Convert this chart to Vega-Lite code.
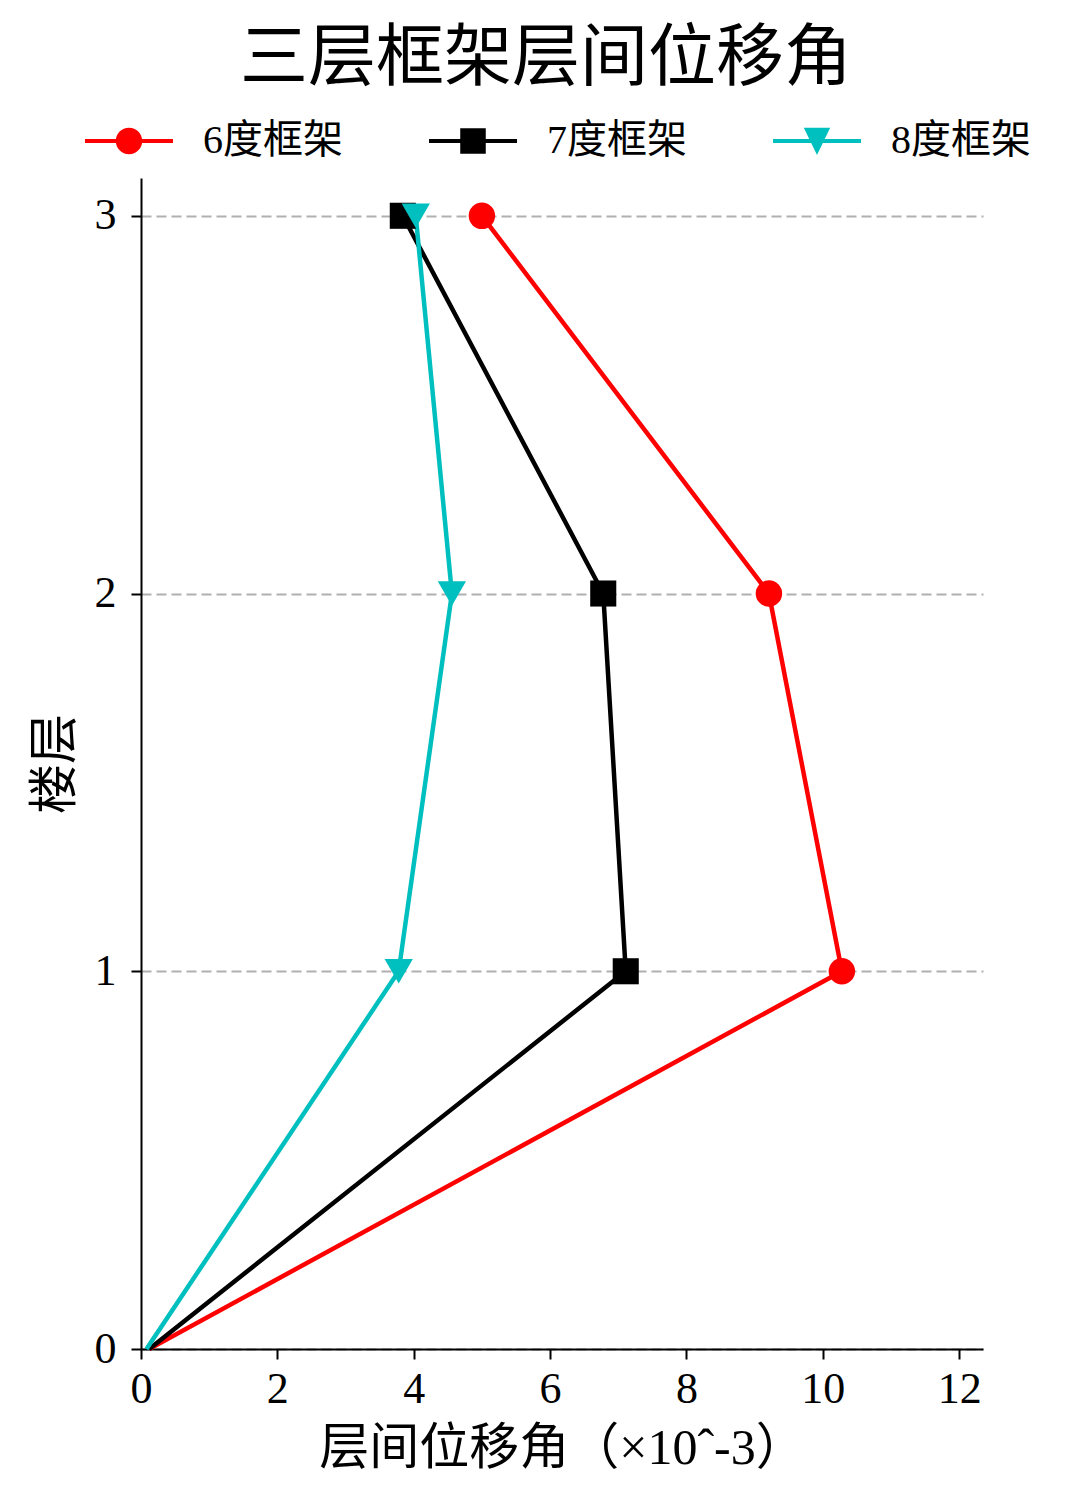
{
  "$schema": "https://vega.github.io/schema/vega-lite/v6.json",
  "width": 842,
  "height": 1171,
  "autosize": {"type": "none"},
  "padding": {"left": 141, "top": 178, "right": 97, "bottom": 159},
  "background": "white",
  "title": {
    "text": "三层框架层间位移角",
    "fontSize": 68,
    "fontWeight": "normal",
    "font": "Liberation Serif, Noto Sans CJK SC",
    "anchor": "middle",
    "frame": "group",
    "dx": -16,
    "offset": 3
  },
  "data": {
    "values": [
      {"series": "6度框架", "drift": 0.12, "floor": 0},
      {"series": "6度框架", "drift": 10.28, "floor": 1},
      {"series": "6度框架", "drift": 9.21, "floor": 2},
      {"series": "6度框架", "drift": 5.0, "floor": 3},
      {"series": "7度框架", "drift": 0.12, "floor": 0},
      {"series": "7度框架", "drift": 7.11, "floor": 1},
      {"series": "7度框架", "drift": 6.78, "floor": 2},
      {"series": "7度框架", "drift": 3.84, "floor": 3},
      {"series": "8度框架", "drift": 0.08, "floor": 0},
      {"series": "8度框架", "drift": 3.78, "floor": 1},
      {"series": "8度框架", "drift": 4.56, "floor": 2},
      {"series": "8度框架", "drift": 4.03, "floor": 3}
    ]
  },
  "encoding": {
    "x": {
      "field": "drift",
      "type": "quantitative",
      "scale": {"domain": [0, 12.35], "nice": false, "zero": false},
      "axis": {
        "values": [0, 2, 4, 6, 8, 10, 12],
        "title": "层间位移角（×10ˆ-3）",
        "grid": false,
        "titlePadding": 12
      }
    },
    "y": {
      "field": "floor",
      "type": "quantitative",
      "scale": {"domain": [0, 3.1], "nice": false},
      "axis": {
        "values": [0, 1, 2, 3],
        "title": "楼层",
        "grid": true,
        "gridDash": [10, 5],
        "gridColor": "#b0b0b0",
        "gridWidth": 2,
        "labelPadding": 15,
        "titlePadding": 14
      }
    }
  },
  "layer": [
    {
      "mark": {"type": "line", "strokeWidth": 4.5},
      "encoding": {
        "order": {"field": "floor"},
        "color": {
          "field": "series",
          "type": "nominal",
          "scale": {
            "domain": ["6度框架", "7度框架", "8度框架"],
            "range": ["#ff0000", "#000000", "#00bfbf"]
          },
          "legend": {
            "title": null,
            "orient": "none",
            "direction": "horizontal",
            "legendX": -56,
            "legendY": -81,
            "symbolSize": 7744,
            "labelFontSize": 40,
            "labelOffset": 30,
            "columnPadding": 86,
            "padding": 0,
            "encode": {
              "symbols": {
                "update": {
                  "shape": {
                    "signal": "datum.value === '6度框架' ? 'M-1,-0.045H1V0.045H-1ZM0.3,0A0.3,0.3,0,1,1,-0.3,0A0.3,0.3,0,1,1,0.3,0Z' : datum.value === '7度框架' ? 'M-1,-0.045H1V0.045H-1ZM-0.29,-0.29H0.29V0.29H-0.29Z' : 'M-1,-0.045H1V0.045H-1ZM-0.3,-0.3H0.3L0,0.32Z'"
                  },
                  "fill": {
                    "signal": "datum.value === '6度框架' ? '#ff0000' : datum.value === '7度框架' ? '#000000' : '#00bfbf'"
                  },
                  "fillOpacity": {"value": 1},
                  "strokeWidth": {"value": 0},
                  "opacity": {"value": 1}
                }
              }
            }
          }
        }
      }
    },
    {
      "transform": [{"filter": "datum.floor > 0 && datum.series === '6度框架'"}],
      "mark": {"type": "point", "shape": "circle", "filled": true, "opacity": 1, "size": 700, "color": "#ff0000"}
    },
    {
      "transform": [{"filter": "datum.floor > 0 && datum.series === '7度框架'"}],
      "mark": {"type": "point", "shape": "square", "filled": true, "opacity": 1, "size": 680, "color": "#000000"}
    },
    {
      "transform": [{"filter": "datum.floor > 0 && datum.series === '8度框架'"}],
      "mark": {"type": "point", "shape": "triangle-down", "filled": true, "opacity": 1, "size": 800, "color": "#00bfbf"}
    }
  ],
  "config": {
    "font": "Liberation Serif, Noto Sans CJK SC",
    "view": {"stroke": null},
    "axis": {
      "labelFont": "Liberation Serif, Noto Sans CJK SC",
      "titleFont": "Liberation Serif, Noto Sans CJK SC",
      "labelFontSize": 44,
      "titleFontSize": 50,
      "titleFontWeight": "normal",
      "labelColor": "black",
      "titleColor": "black",
      "domainColor": "black",
      "domainWidth": 2,
      "tickColor": "black",
      "tickWidth": 2,
      "tickSize": 10,
      "labelPadding": 8,
      "labelFlush": false,
      "labelOverlap": false
    },
    "legend": {
      "labelFont": "Liberation Serif, Noto Sans CJK SC",
      "labelColor": "black"
    }
  }
}
